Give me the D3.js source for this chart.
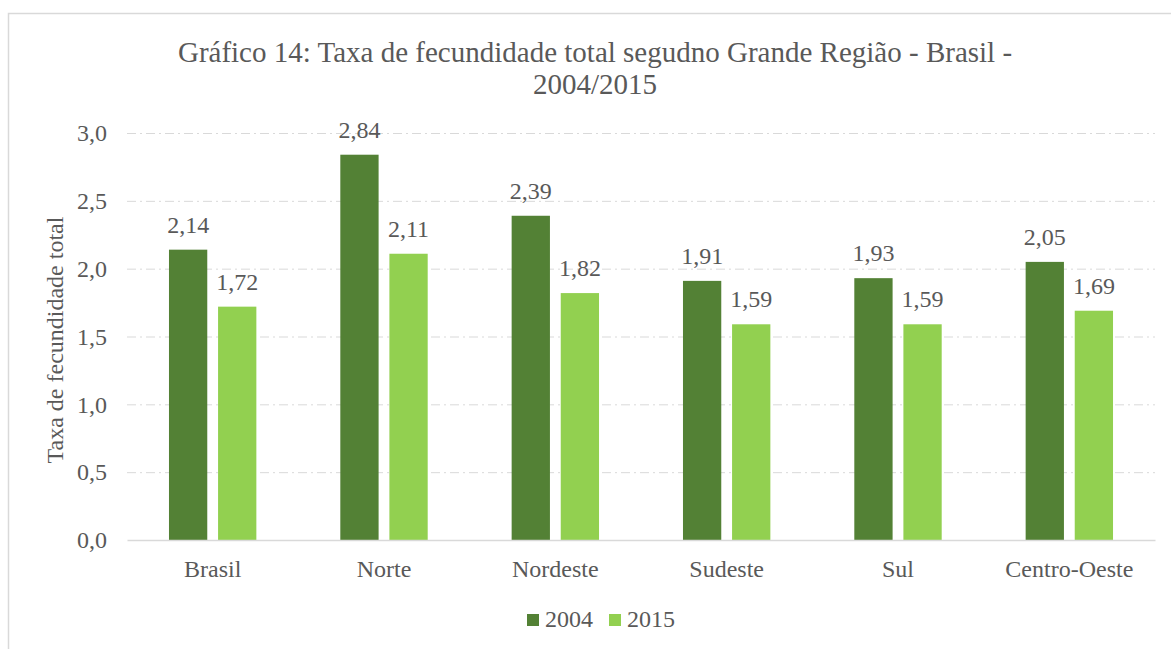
<!DOCTYPE html>
<html>
<head>
<meta charset="utf-8">
<script src="https://cdn.jsdelivr.net/npm/d3@7"></script>
<style>
  body { margin: 0; background: #fff; }
</style>
</head>
<body>
<div class="container"></div>
<script>
var regions = ['Brasil', 'Norte', 'Nordeste', 'Sudeste', 'Sul', 'Centro-Oeste'];
var years = ['2004', '2015'];
var values2004 = [2.14, 2.84, 2.39, 1.91, 1.93, 2.05];
var values2015 = [1.72, 2.11, 1.82, 1.59, 1.59, 1.69];
var yTicks = [0, 0.5, 1.0, 1.5, 2.0, 2.5, 3.0];
var colors = ['#538135', '#92d050'];

var FONT = 'Liberation Serif';
var TEXT_COLOR = '#595959';
var FS = 24;

var width = 1171, height = 649;
var margin = { left: 127, right: 16, top: 133, bottom: 109 };

var svg = d3.select('.container').append('svg')
    .attr('width', width).attr('height', height)
    .style('font-family', FONT);

// chart border
svg.append('rect')
   .attr('x', 8.5).attr('y', 13.5)
   .attr('width', width + 10).attr('height', height + 10)
   .attr('fill', 'none').attr('stroke', '#d9d9d9').attr('stroke-width', 1.5);

var x = d3.scaleBand()
    .domain(regions)
    .range([margin.left, width - margin.right])
    .paddingInner(0.49).paddingOuter(0.245);

var xi = d3.scaleBand()
    .domain(years)
    .range([0, x.bandwidth()])
    .paddingInner(0.22);

var y = d3.scaleLinear()
    .domain([0, 3])
    .range([height - margin.bottom, margin.top]);

// gridlines
svg.append('g').selectAll('line')
   .data(yTicks.filter(function (d) { return d > 0; }))
   .enter().append('line')
   .attr('x1', margin.left).attr('x2', width - margin.right)
   .attr('y1', function (d) { return y(d) + 0.5; })
   .attr('y2', function (d) { return y(d) + 0.5; })
   .attr('stroke', '#d9d9d9').attr('stroke-width', 1)
   .attr('stroke-dasharray', '9,4,2,4');

// y axis labels
var yAxis = d3.axisLeft(y).tickValues(yTicks).tickSize(0).tickPadding(20)
    .tickFormat(function (d) { return d3.format('.1f')(d).replace('.', ','); });
var gy = svg.append('g').attr('transform', 'translate(' + margin.left + ',0)').call(yAxis)
    .attr('font-family', FONT).attr('font-size', FS);
gy.select('.domain').remove();
gy.selectAll('text').attr('fill', TEXT_COLOR);

// bars
var groups = svg.append('g').selectAll('g')
    .data(regions)
    .enter().append('g')
    .attr('transform', function (d) { return 'translate(' + x(d) + ',0)'; });

groups.selectAll('rect')
   .data(function (d, i) { return [{ k: '2004', v: values2004[i] }, { k: '2015', v: values2015[i] }]; })
   .enter().append('rect')
   .attr('x', function (d) { return xi(d.k); })
   .attr('y', function (d) { return y(d.v); })
   .attr('width', xi.bandwidth())
   .attr('height', function (d) { return y(0) - y(d.v); })
   .attr('fill', function (d) { return d.k === '2004' ? colors[0] : colors[1]; });

groups.selectAll('text.lbl')
   .data(function (d, i) { return [{ k: '2004', v: values2004[i] }, { k: '2015', v: values2015[i] }]; })
   .enter().append('text')
   .attr('class', 'lbl')
   .attr('x', function (d) { return xi(d.k) + xi.bandwidth() / 2; })
   .attr('y', function (d) { return y(d.v) - 17; })
   .attr('text-anchor', 'middle')
   .attr('font-family', FONT).attr('font-size', FS).attr('fill', TEXT_COLOR)
   .text(function (d) { return d3.format('.2f')(d.v).replace('.', ','); });

// x axis
var xAxis = d3.axisBottom(x).tickSize(0).tickPadding(20);
var gx = svg.append('g').attr('transform', 'translate(0,' + y(0) + ')').call(xAxis)
    .attr('font-family', FONT).attr('font-size', FS);
gx.select('.domain').attr('stroke', '#d9d9d9').attr('stroke-width', 1.5);
gx.selectAll('text').attr('fill', TEXT_COLOR);

// y axis title
svg.append('text')
   .attr('transform', 'translate(63,340) rotate(-90)')
   .attr('text-anchor', 'middle')
   .attr('font-family', FONT).attr('font-size', FS).attr('fill', TEXT_COLOR)
   .text('Taxa de fecundidade total');

// title
var title = ['Gráfico 14: Taxa de fecundidade total segudno Grande Região - Brasil -', '2004/2015'];
svg.append('g').selectAll('text')
   .data(title)
   .enter().append('text')
   .attr('x', 595).attr('y', function (d, i) { return 62 + i * 32; })
   .attr('text-anchor', 'middle')
   .attr('font-family', FONT).attr('font-size', 29).attr('fill', TEXT_COLOR)
   .text(function (d) { return d; });

// legend
var legend = svg.append('g').selectAll('g')
    .data(years)
    .enter().append('g')
    .attr('transform', function (d, i) { return 'translate(' + (527 + i * 82) + ',614)'; });
legend.append('rect')
   .attr('width', 12).attr('height', 12)
   .attr('fill', function (d, i) { return colors[i]; });
legend.append('text')
   .attr('x', 18).attr('y', 13)
   .attr('font-family', FONT).attr('font-size', FS).attr('fill', TEXT_COLOR)
   .text(function (d) { return d; });
</script>
</body>
</html>
